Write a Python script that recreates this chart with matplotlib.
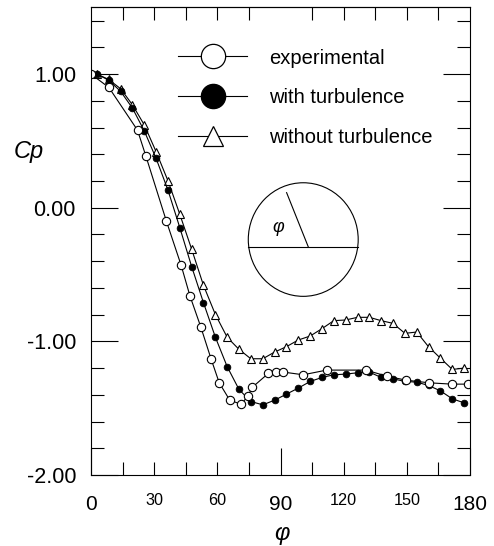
import matplotlib
matplotlib.use("Agg")
import matplotlib.pyplot as plt
from matplotlib.lines import Line2D
from matplotlib.patches import Ellipse

plt.rcParams["font.family"] = ["Liberation Sans", "DejaVu Sans"]

# angle (deg) and pressure coefficient
exp_angle = [0, 8.5, 22.1, 26.1, 35.8, 42.8, 47.0, 52.1, 57.0, 60.9, 65.9, 71.2,
             74.6, 76.5, 84.2, 87.9, 91.4, 100.8, 111.9, 130.6, 140.4, 149.5,
             160.5, 171.3, 179.2]
exp_cp = [1.00, 0.90, 0.58, 0.385, -0.10, -0.43, -0.66, -0.89, -1.13, -1.31,
          -1.44, -1.47, -1.41, -1.345, -1.24, -1.23, -1.23, -1.25, -1.215,
          -1.215, -1.26, -1.29, -1.31, -1.32, -1.32]

model_angle = [2.8, 8.4, 14.1, 19.7, 25.3, 30.9, 36.6, 42.2, 47.8, 53.4, 59.1,
               64.7, 70.3, 75.9, 81.6, 87.2, 92.8, 98.4, 104.1, 109.7, 115.3,
               120.9, 126.6, 132.2, 137.8, 143.4, 149.1, 154.7, 160.3, 165.9,
               171.6, 177.2]
turb_cp = [1.00, 0.955, 0.87, 0.745, 0.575, 0.37, 0.13, -0.15, -0.44, -0.71,
           -0.97, -1.19, -1.36, -1.45, -1.475, -1.44, -1.395, -1.35, -1.30,
           -1.27, -1.25, -1.245, -1.235, -1.23, -1.27, -1.28, -1.30, -1.305,
           -1.33, -1.37, -1.43, -1.46]
noturb_cp = [1.00, 0.96, 0.89, 0.77, 0.62, 0.42, 0.20, -0.05, -0.31, -0.58,
             -0.80, -0.97, -1.06, -1.13, -1.13, -1.08, -1.04, -0.99, -0.96,
             -0.905, -0.845, -0.84, -0.82, -0.82, -0.845, -0.865, -0.94, -0.93,
             -1.04, -1.125, -1.21, -1.20]

labels = ["experimental", "with turbulence", "without turbulence"]

x_major = [0, 90, 180]
x_minor = [15, 30, 45, 60, 75, 105, 120, 135, 150, 165]
x_minor_labels = ["", "30", "", "60", "", "", "120", "", "150", ""]
y_major = [-2, -1, 0, 1]
y_major_labels = ["-2.00", "-1.00", "0.00", "1.00"]
y_minor = [-1.8, -1.6, -1.4, -1.2, -0.8, -0.6, -0.4, -0.2,
           0.2, 0.4, 0.6, 0.8, 1.2, 1.4]

fig = plt.figure(figsize=(4.94, 5.46), dpi=100)
ax = fig.add_axes([91 / 494, 71 / 546, 379 / 494, 467.7 / 546])

lw = 0.8
ax.plot(model_angle, noturb_cp, color="black", lw=lw, marker="^", ms=5.4,
        mfc="white", mec="black", mew=0.8)
ax.plot(model_angle, turb_cp, color="black", lw=lw, marker="o", ms=4.8,
        mfc="black", mec="black", mew=0.6)
ax.plot(exp_angle, exp_cp, color="black", lw=lw, marker="o", ms=6.0,
        mfc="white", mec="black", mew=0.8)

ax.set_xlim(0, 180)
ax.set_ylim(-2, 1.5)

ax.set_xticks(x_major)
ax.set_xticklabels([str(v) for v in x_major], fontsize=15)
ax.set_xticks(x_minor, minor=True)
ax.set_xticklabels(x_minor_labels, minor=True, fontsize=11.7)
ax.set_yticks(y_major)
ax.set_yticklabels(y_major_labels, fontsize=15.5)
ax.set_yticks(y_minor, minor=True)

ax.tick_params(axis="x", which="major", direction="in", length=19.4, width=0.8,
               pad=14.4)
ax.tick_params(axis="x", which="minor", direction="in", length=9.4, width=0.8,
               pad=13.2)
ax.tick_params(axis="y", which="major", direction="in", length=19.4, width=0.8,
               pad=10.8, right=True)
ax.tick_params(axis="y", which="minor", direction="in", length=9.4, width=0.8,
               right=True)

top = ax.secondary_xaxis("top")
top.set_xticks(x_minor)
top.tick_params(direction="in", length=9.4, width=0.8, labeltop=False)

for s in ax.spines.values():
    s.set_linewidth(0.8)
top.spines["top"].set_linewidth(0.8)

ax.set_xlabel("φ", fontsize=17, fontstyle="italic")
ax.xaxis.set_label_coords(0.503, -0.1)
ax.set_ylabel("Cp", fontsize=17, fontstyle="italic", rotation=0,
              ha="left", va="baseline")
ax.yaxis.set_label_coords(-0.203, 0.678)

# little cylinder sketch
circ = Ellipse((100.8, -0.238), 52.2, 0.85, fill=False, ec="black", lw=0.8)
ax.add_patch(circ)
ax.plot([74.7, 126.9], [-0.293, -0.293], color="black", lw=0.8)
ax.plot([103.2, 92.9], [-0.293, 0.113], color="black", lw=0.8)
ax.text(89.0, -0.15, "φ", fontsize=13, fontstyle="italic", ha="center",
        va="center")

handles = [
    Line2D([], [], color="black", lw=lw, marker="o", ms=17.5, mfc="white",
           mec="black", mew=0.9, label=labels[0]),
    Line2D([], [], color="black", lw=lw, marker="o", ms=17.5, mfc="black",
           mec="black", mew=0.9, label=labels[1]),
    Line2D([], [], color="black", lw=lw, marker="^", ms=14, mfc="white",
           mec="black", mew=0.9, label=labels[2]),
]
ax.legend(handles=handles, loc="upper left",
          bbox_to_anchor=(178 / 494, 1 - 48.5 / 546),
          bbox_transform=fig.transFigure, frameon=False, fontsize=14.5,
          handlelength=3.43, handletextpad=1.1, labelspacing=1.03,
          borderpad=0, borderaxespad=0)

fig.savefig("out.png", dpi=100)
